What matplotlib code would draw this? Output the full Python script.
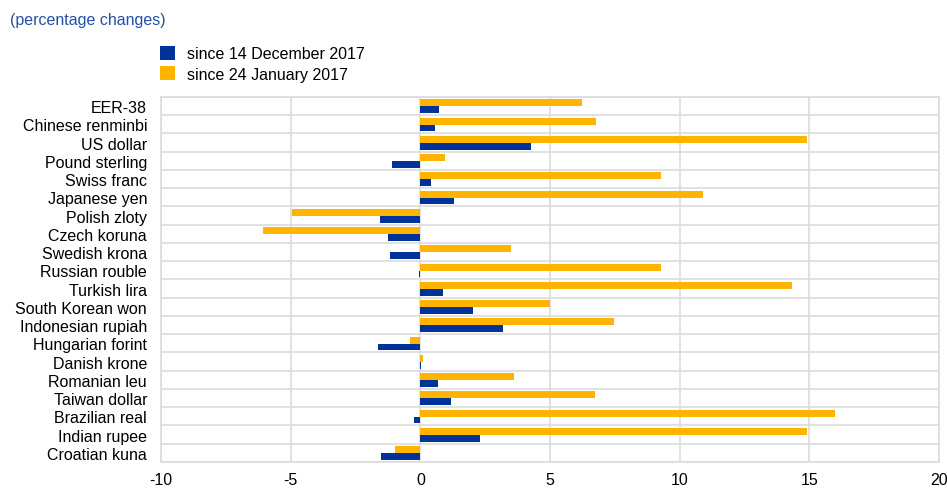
import numpy as np
import matplotlib
matplotlib.use('Agg')
import matplotlib.pyplot as plt

plt.rcParams['font.family'] = ['Liberation Sans', 'DejaVu Sans']
plt.rcParams['axes.unicode_minus'] = False

currencies = ['EER-38', 'Chinese renminbi', 'US dollar', 'Pound sterling', 'Swiss franc',
              'Japanese yen', 'Polish zloty', 'Czech koruna', 'Swedish krona', 'Russian rouble',
              'Turkish lira', 'South Korean won', 'Indonesian rupiah', 'Hungarian forint',
              'Danish krone', 'Romanian leu', 'Taiwan dollar', 'Brazilian real', 'Indian rupee',
              'Croatian kuna']
since_dec = [0.73, 0.56, 4.28, -1.11, 0.42, 1.30, -1.56, -1.23, -1.17, -0.05,
             0.87, 2.04, 3.17, -1.62, 0.01, 0.68, 1.19, -0.25, 2.31, -1.53]
since_jan = [6.24, 6.79, 14.92, 0.95, 9.28, 10.90, -4.94, -6.08, 3.51, 9.28,
             14.34, 5.01, 7.48, -0.41, 0.12, 3.62, 6.72, 15.97, 14.89, -0.97]
series_names = ['since 14 December 2017', 'since 24 January 2017']

blue = '#003299'
yellow = '#ffb400'
grid = '#dcdcdc'
fs = 11.5

fig = plt.figure(figsize=(9.47, 4.89), dpi=100)
ax = fig.add_axes([0.170, 0.0532, 0.8216, 0.7464])

y = np.arange(len(currencies))
h = 0.38
ax.barh(y + 0.2, since_dec, height=h, color=blue, label=series_names[0], zorder=3)
ax.barh(y - 0.18, since_jan, height=h, color=yellow, label=series_names[1], zorder=3)

ax.set_xlim(-10, 20)
ax.set_xticks([-10, -5, 0, 5, 10, 15, 20])
ax.set_ylim(len(currencies) - 0.5, -0.5)
ax.set_yticks(y)
ax.set_yticklabels(currencies)
ax.set_yticks(np.arange(-0.5, len(currencies)), minor=True)
ax.tick_params(axis='both', which='both', length=0, labelsize=fs, colors='black')
ax.tick_params(axis='x', pad=7)
ax.tick_params(axis='y', pad=10)
ax.grid(axis='x', which='major', color=grid, lw=1.2, zorder=0)
ax.grid(axis='y', which='minor', color=grid, lw=1.2, zorder=0)
for s in ax.spines.values():
    s.set_color(grid)
    s.set_linewidth(1.2)

fig.text(0.0106, 0.958, '(percentage changes)', color='#2450a8', fontsize=fs, va='center')

handles, labels = ax.get_legend_handles_labels()
fig.legend(handles, labels, loc='upper left', bbox_to_anchor=(0.1625, 0.917),
           frameon=False, fontsize=fs, handlelength=0.95, handleheight=0.95,
           handletextpad=0.75, labelspacing=0.3, borderaxespad=0)

fig.savefig('out.png', dpi=100)
